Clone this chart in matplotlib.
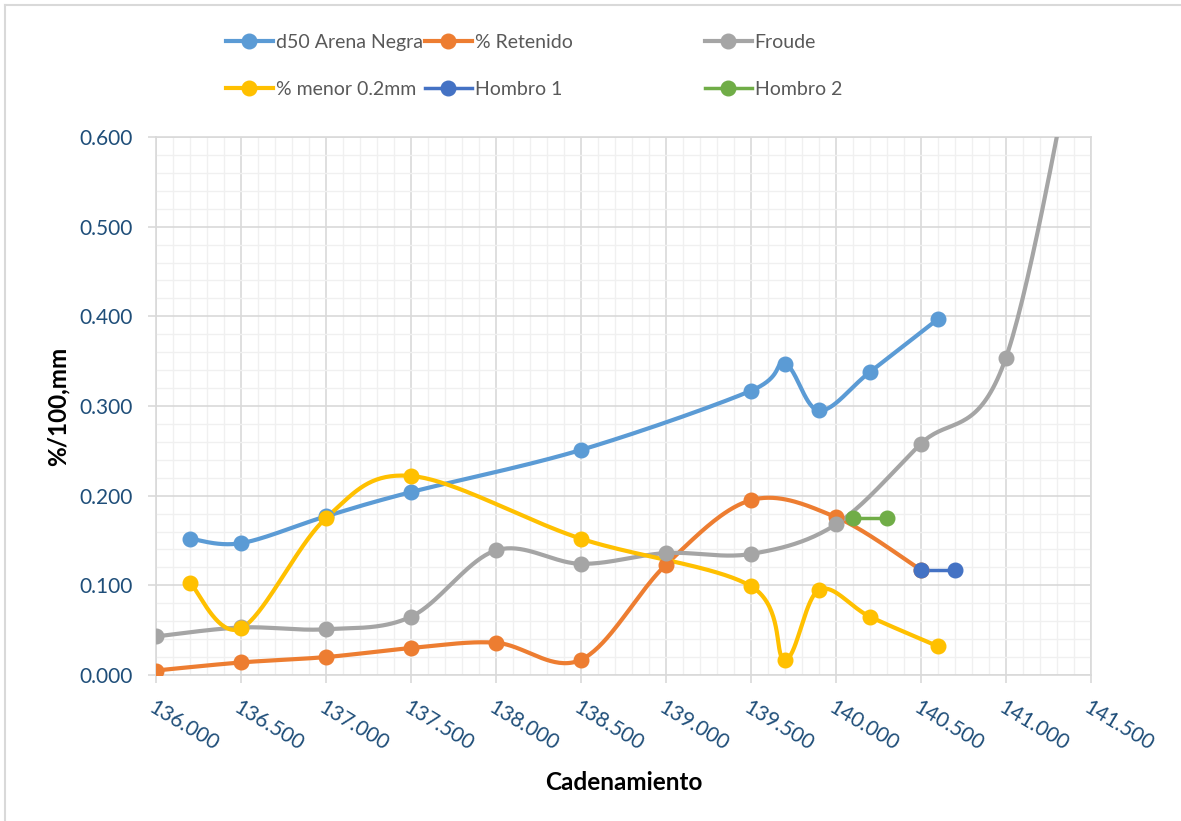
import numpy as np
import matplotlib
matplotlib.use("Agg")
import matplotlib.pyplot as plt
from matplotlib.lines import Line2D
from matplotlib.ticker import MultipleLocator, FormatStrFormatter

plt.rcParams['font.family'] = ['Lato', 'DejaVu Sans']

# ---------------- data ----------------
d50_x = [136.2, 136.5, 137.0, 137.5, 138.5, 139.5, 139.7, 139.9, 140.2, 140.6]
d50_y = [0.152, 0.147, 0.177, 0.204, 0.251, 0.317, 0.347, 0.295, 0.338, 0.397]

ret_x = [136.0, 136.5, 137.0, 137.5, 138.0, 138.5, 139.0, 139.5, 140.0, 140.5]
ret_y = [0.005, 0.014, 0.020, 0.030, 0.036, 0.017, 0.123, 0.195, 0.176, 0.117]

froude_x = [136.0, 136.5, 137.0, 137.5, 138.0, 138.5, 139.0, 139.5, 140.0, 140.5, 141.0, 141.5]
froude_y = [0.043, 0.053, 0.051, 0.065, 0.139, 0.124, 0.136, 0.135, 0.168, 0.258, 0.354, 0.800]

menor_x = [136.2, 136.5, 137.0, 137.5, 138.5, 139.5, 139.7, 139.9, 140.2, 140.6]
menor_y = [0.103, 0.052, 0.175, 0.222, 0.152, 0.099, 0.017, 0.095, 0.065, 0.032]

h1_x = [140.5, 140.7]
h1_y = [0.117, 0.117]

h2_x = [140.1, 140.3]
h2_y = [0.175, 0.175]

series = [
    ("d50 Arena Negra", d50_x, d50_y, "#5B9BD5"),
    ("% Retenido", ret_x, ret_y, "#ED7D31"),
    ("Froude", froude_x, froude_y, "#A5A5A5"),
    ("% menor 0.2mm", menor_x, menor_y, "#FFC000"),
    ("Hombro 1", h1_x, h1_y, "#4472C4"),
    ("Hombro 2", h2_x, h2_y, "#70AD47"),
]

x_ticks = [136.0, 136.5, 137.0, 137.5, 138.0, 138.5, 139.0, 139.5, 140.0, 140.5, 141.0, 141.5]
y_ticks = [0.0, 0.1, 0.2, 0.3, 0.4, 0.5, 0.6]


def smooth(xs, ys, n=40):
    """Excel-like smoothed line: cubic Bezier segments with 1/6 tangents."""
    P = np.column_stack([xs, ys]).astype(float)
    m = len(P)
    if m < 3:
        return P[:, 0], P[:, 1]
    out = []
    t = np.linspace(0, 1, n)[:, None]
    for i in range(m - 1):
        p0 = P[i - 1] if i > 0 else P[i]
        p1 = P[i]
        p2 = P[i + 1]
        p3 = P[i + 2] if i + 2 < m else P[i + 1]
        c1 = p1 + (p2 - p0) / 6.0
        c2 = p2 - (p3 - p1) / 6.0
        seg = ((1 - t) ** 3) * p1 + 3 * ((1 - t) ** 2) * t * c1 + 3 * (1 - t) * t ** 2 * c2 + t ** 3 * p2
        out.append(seg if i == 0 else seg[1:])
    S = np.vstack(out)
    return S[:, 0], S[:, 1]


W, H = 1181, 821
fig = plt.figure(figsize=(W / 100, H / 100), dpi=100)
ax = fig.add_axes([156 / W, 1 - 675 / H, (1091 - 156) / W, (675 - 137) / H])

grid_major = "#D9D9D9"
grid_minor = "#F0F0F0"
tick_col = "#1F4E79"

handles = {}
for name, xs, ys, col in series:
    lw = 3.0 if not name.startswith("Hombro") else 2.5
    sx, sy = smooth(xs, ys)
    ax.plot(sx, sy, color=col, lw=lw, solid_capstyle='round', zorder=3)
    ax.plot(xs, ys, linestyle='none', marker='o', markersize=10.5,
            color=col, markeredgecolor=col, zorder=4)
    handles[name] = Line2D([0], [0], color=col, lw=lw, marker='o',
                           markersize=10.5, markeredgecolor=col)

ax.set_xlim(136.0, 141.5)
ax.set_ylim(0.0, 0.6)
ax.set_xticks(x_ticks)
ax.set_yticks(y_ticks)
ax.xaxis.set_minor_locator(MultipleLocator(0.1))
ax.yaxis.set_minor_locator(MultipleLocator(0.02))
ax.xaxis.set_major_formatter(FormatStrFormatter('%.3f'))
ax.yaxis.set_major_formatter(FormatStrFormatter('%.3f'))

ax.grid(True, which='major', color=grid_major, lw=1.2, zorder=0)
ax.grid(True, which='minor', color=grid_minor, lw=1.0, zorder=0)
ax.set_axisbelow(True)
for sp in ax.spines.values():
    sp.set_color(grid_major)
    sp.set_linewidth(1.2)

ax.tick_params(axis='both', which='major', direction='out', length=6,
               width=1.2, color=grid_major, labelcolor=tick_col, labelsize=15)
ax.tick_params(axis='both', which='minor', length=0)
ax.tick_params(axis='y', pad=11)
ax.tick_params(axis='x', pad=10)
for lab in ax.get_xticklabels():
    lab.set_rotation(-31)
    lab.set_ha('left')
    lab.set_va('top')
    lab.set_rotation_mode('anchor')

ax.set_xlabel("Cadenamiento", fontsize=17.5, fontweight='bold', color='black', labelpad=12)
ax.set_ylabel("%/100,mm", fontsize=17.5, fontweight='bold', color='black', labelpad=7)

# legend: three columns of two entries each
cols = [
    (["d50 Arena Negra", "% menor 0.2mm"], 226),
    (["% Retenido", "Hombro 1"], 425),
    (["Froude", "Hombro 2"], 705),
]
for names, px in cols:
    fig.legend(handles=[handles[n] for n in names], labels=names,
               loc='upper left', bbox_to_anchor=(px / W, 1 - 34 / H),
               frameon=False, fontsize=14, labelcolor='#595959',
               handlelength=2.4, handletextpad=0.15, labelspacing=1.55,
               borderpad=0, borderaxespad=0)

# outer chart frame (left and top edges visible)
fig.add_artist(Line2D([5 / W, 5 / W], [0, 1 - 5 / H], color='#D9D9D9', lw=1.5,
                      transform=fig.transFigure))
fig.add_artist(Line2D([5 / W, 1], [1 - 5 / H, 1 - 5 / H], color='#D9D9D9', lw=1.5,
                      transform=fig.transFigure))

fig.savefig("out.png", dpi=100)
